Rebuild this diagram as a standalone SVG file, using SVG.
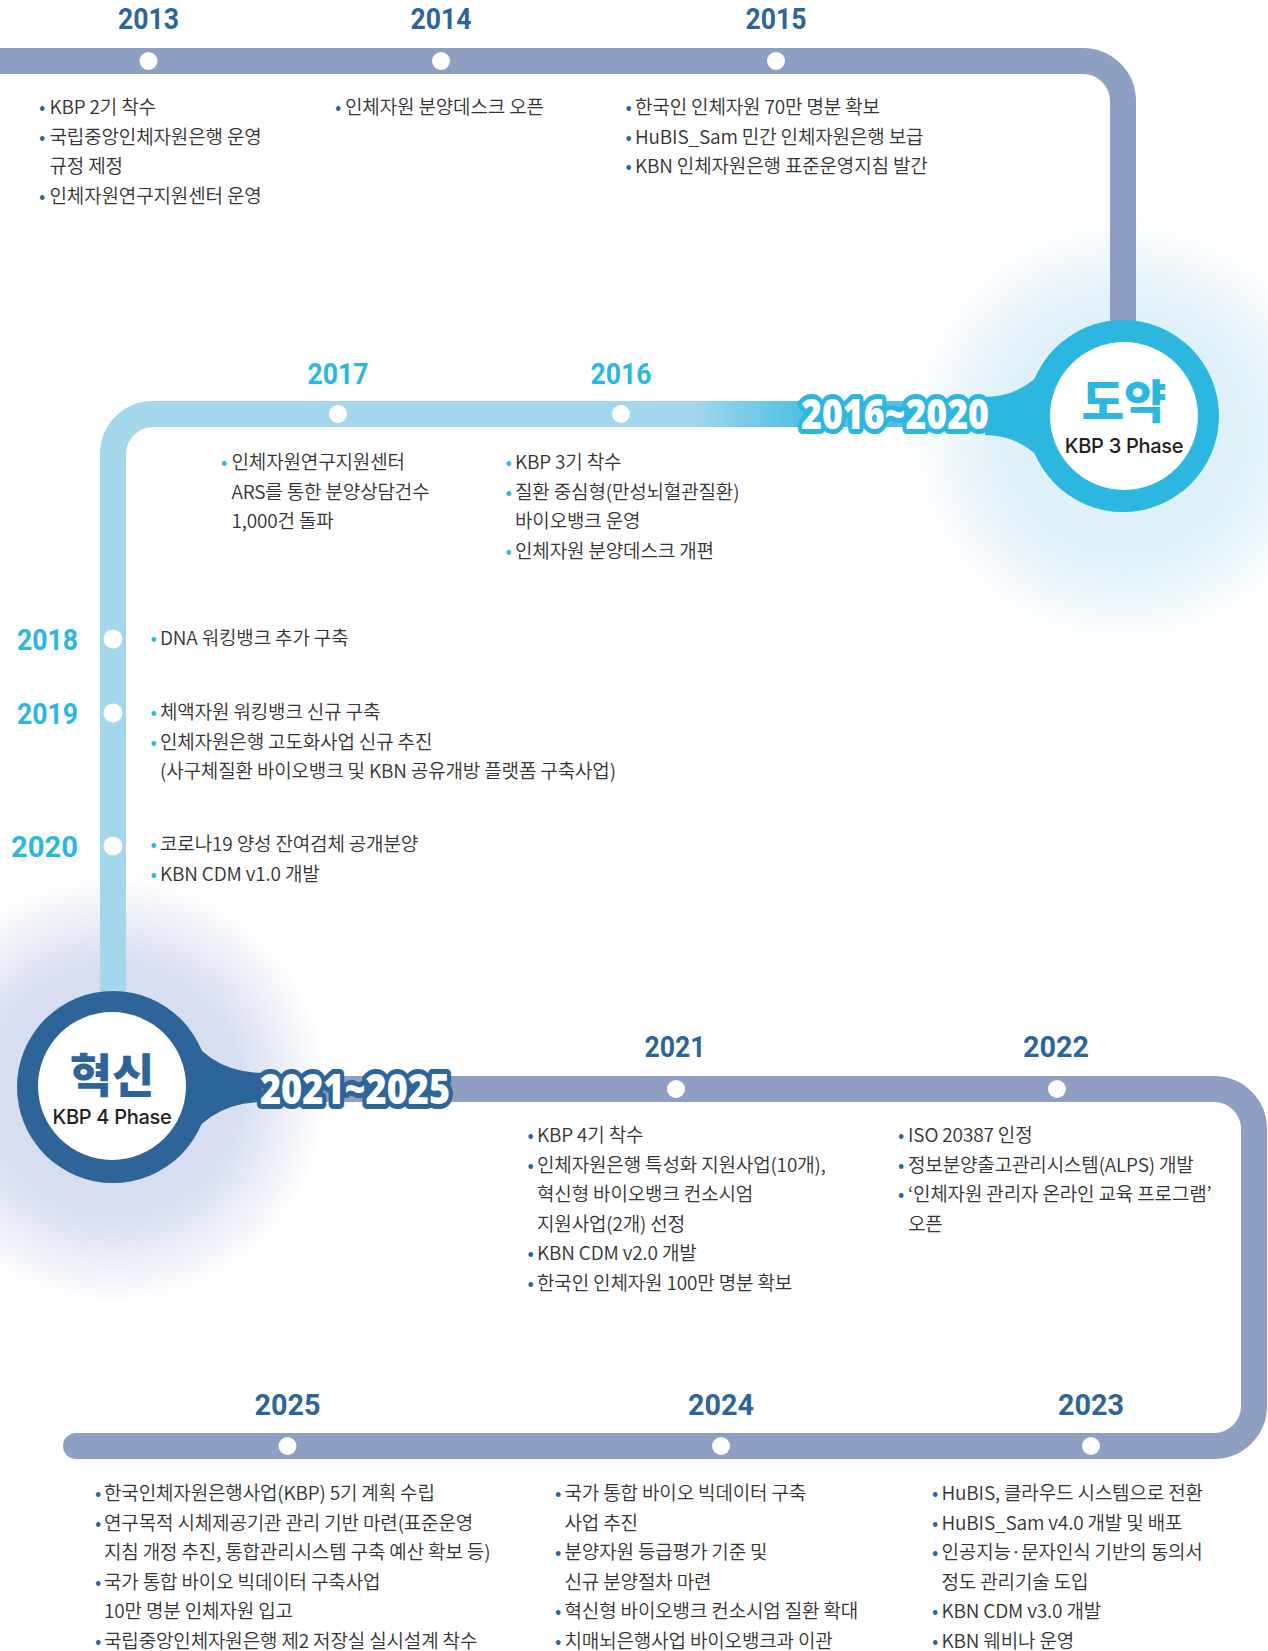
<svg xmlns="http://www.w3.org/2000/svg" width="1268" height="1651" viewBox="0 0 1268 1651">
<defs>
<style>
.t{font-family:"Noto Sans CJK KR","Noto Sans",sans-serif;font-size:19px;font-weight:350;fill:#333;letter-spacing:-0.15px}
.bd{fill:#2e6599}
.bl{fill:#2bb7e0}
.y{font-family:Roboto,"Liberation Sans",sans-serif;font-weight:700;font-size:30px;text-anchor:middle}
.yd{fill:#2e6599}
.yl{fill:#2bb7e0}
.dot{fill:#fff}
.band{fill:none;stroke-width:26}
.lab{font-family:"Noto Sans","Liberation Sans",sans-serif;font-weight:900;font-size:43px;fill:#fff;stroke-width:10;stroke-linejoin:round;paint-order:stroke;text-anchor:middle}
.ph{font-family:"Noto Sans CJK KR",sans-serif;font-weight:900;font-size:46px;text-anchor:middle}
.phs{font-family:Inter,"Noto Sans",sans-serif;font-weight:500;font-size:20px;fill:#231f20;text-anchor:middle;letter-spacing:-0.3px}
</style>
<radialGradient id="glowA" cx="1123" cy="432" r="215" gradientUnits="userSpaceOnUse">
<stop offset="0" stop-color="#dbeff8"/>
<stop offset="0.6" stop-color="#e0f1f9"/>
<stop offset="1" stop-color="#e0f1f9" stop-opacity="0"/>
</radialGradient>
<radialGradient id="glowB" cx="113" cy="1090" r="215" gradientUnits="userSpaceOnUse">
<stop offset="0" stop-color="#d4dbef"/>
<stop offset="0.6" stop-color="#d9dff1"/>
<stop offset="1" stop-color="#d9dff1" stop-opacity="0"/>
</radialGradient>
<linearGradient id="gMid" x1="690" y1="0" x2="800" y2="0" gradientUnits="userSpaceOnUse">
<stop offset="0" stop-color="#a5d7ec"/>
<stop offset="1" stop-color="#52c0e5"/>
</linearGradient>
</defs>
<rect width="1268" height="1651" fill="#fff"/>
<circle cx="1123" cy="432" r="215" fill="url(#glowA)"/>
<circle cx="113" cy="1090" r="215" fill="url(#glowB)"/>

<g id="connectors">
<path class="band" stroke="#8f9fc3" d="M0,61 H1083 A40,40 0 0 1 1123,101 V340"/>
<path class="band" stroke="url(#gMid)" d="M990,414 H153 A40,40 0 0 0 113,454 V1010"/>
<path class="band" stroke="#8f9fc3" stroke-linecap="round" d="M250,1089 H1214 A40,40 0 0 1 1254,1129 V1406 A40,40 0 0 1 1214,1446 H76"/>
</g>

<g id="phase-doyak">
<path fill="#2bb7e0" d="M1058,346 Q1035,396 985,397 L985,435 Q1035,436 1058,486 Z"/>
<circle cx="1123" cy="416" r="96" fill="#2bb7e0"/>
<circle cx="1124" cy="416" r="74" fill="#fff"/>
<text class="ph" x="1124" y="418" fill="#2bb7e0">도약</text>
<text class="phs" x="1124" y="453">KBP 3 Phase</text>
<text class="lab" x="895" y="429" stroke="#2bb7e0" textLength="188" lengthAdjust="spacingAndGlyphs">2016~2020</text>
</g>

<g id="phase-hyeoksin">
<path fill="#2e6599" d="M178,1019 Q205,1072 262,1073 L262,1102 Q205,1103 178,1155 Z"/>
<circle cx="113" cy="1087" r="96" fill="#2e6599"/>
<circle cx="112" cy="1086" r="74" fill="#fff"/>
<text class="ph" x="112" y="1092" fill="#2e6599">혁신</text>
<text class="phs" x="112" y="1124">KBP 4 Phase</text>
<text class="lab" x="355" y="1104" stroke="#2e6599" textLength="190" lengthAdjust="spacingAndGlyphs">2021~2025</text>
</g>

<g id="y2013">
<text class="y yd" x="148.5" y="29" textLength="61" lengthAdjust="spacingAndGlyphs">2013</text>
<circle class="dot" cx="148.5" cy="61" r="9"/>
<text class="t" y="114"><tspan class="bd" x="39">•</tspan><tspan x="49.5">KBP 2기 착수</tspan></text>
<text class="t" y="143.5"><tspan class="bd" x="39">•</tspan><tspan x="49.5">국립중앙인체자원은행 운영</tspan></text>
<text class="t" x="49.5" y="173">규정 제정</text>
<text class="t" y="202.5"><tspan class="bd" x="39">•</tspan><tspan x="49.5">인체자원연구지원센터 운영</tspan></text>
</g>

<g id="y2014">
<text class="y yd" x="441" y="29" textLength="61" lengthAdjust="spacingAndGlyphs">2014</text>
<circle class="dot" cx="441" cy="61" r="9"/>
<text class="t" y="114"><tspan class="bd" x="335">•</tspan><tspan x="345">인체자원 분양데스크 오픈</tspan></text>
</g>

<g id="y2015">
<text class="y yd" x="776" y="29" textLength="61" lengthAdjust="spacingAndGlyphs">2015</text>
<circle class="dot" cx="776" cy="61" r="9"/>
<text class="t" y="114"><tspan class="bd" x="625.5">•</tspan><tspan x="635">한국인 인체자원 70만 명분 확보</tspan></text>
<text class="t" y="143.5"><tspan class="bd" x="625.5">•</tspan><tspan x="635">HuBIS_Sam 민간 인체자원은행 보급</tspan></text>
<text class="t" y="173"><tspan class="bd" x="625.5">•</tspan><tspan x="635">KBN 인체자원은행 표준운영지침 발간</tspan></text>
</g>

<g id="y2016">
<text class="y yl" x="621" y="384" textLength="61" lengthAdjust="spacingAndGlyphs">2016</text>
<circle class="dot" cx="621" cy="414" r="9"/>
<text class="t" y="469"><tspan class="bl" x="505.5">•</tspan><tspan x="515">KBP 3기 착수</tspan></text>
<text class="t" y="498.5"><tspan class="bl" x="505.5">•</tspan><tspan x="515">질환 중심형(만성뇌혈관질환)</tspan></text>
<text class="t" x="515" y="528">바이오뱅크 운영</text>
<text class="t" y="557.5"><tspan class="bl" x="505.5">•</tspan><tspan x="515">인체자원 분양데스크 개편</tspan></text>
</g>

<g id="y2017">
<text class="y yl" x="338" y="384" textLength="61" lengthAdjust="spacingAndGlyphs">2017</text>
<circle class="dot" cx="338" cy="414" r="9"/>
<text class="t" y="469"><tspan class="bl" x="221">•</tspan><tspan x="231.5">인체자원연구지원센터</tspan></text>
<text class="t" x="231.5" y="498.5">ARS를 통한 분양상담건수</text>
<text class="t" x="231.5" y="528">1,000건 돌파</text>
</g>

<g id="y2018">
<text class="y yl" x="78" y="650" style="text-anchor:end" textLength="61" lengthAdjust="spacingAndGlyphs">2018</text>
<circle class="dot" cx="113" cy="639" r="9.5"/>
<text class="t" y="645"><tspan class="bl" x="150.5">•</tspan><tspan x="160">DNA 워킹뱅크 추가 구축</tspan></text>
</g>

<g id="y2019">
<text class="y yl" x="78" y="724" style="text-anchor:end" textLength="61" lengthAdjust="spacingAndGlyphs">2019</text>
<circle class="dot" cx="113" cy="713" r="9.5"/>
<text class="t" y="719"><tspan class="bl" x="150.5">•</tspan><tspan x="160">체액자원 워킹뱅크 신규 구축</tspan></text>
<text class="t" y="748.5"><tspan class="bl" x="150.5">•</tspan><tspan x="160">인체자원은행 고도화사업 신규 추진</tspan></text>
<text class="t" x="160" y="778">(사구체질환 바이오뱅크 및 KBN 공유개방 플랫폼 구축사업)</text>
</g>

<g id="y2020">
<text class="y yl" x="78" y="857" style="text-anchor:end" textLength="67" lengthAdjust="spacingAndGlyphs">2020</text>
<circle class="dot" cx="113" cy="846" r="9.5"/>
<text class="t" y="851"><tspan class="bl" x="150.5">•</tspan><tspan x="160">코로나19 양성 잔여검체 공개분양</tspan></text>
<text class="t" y="880.5"><tspan class="bl" x="150.5">•</tspan><tspan x="160">KBN CDM v1.0 개발</tspan></text>
</g>

<g id="y2021">
<text class="y yd" x="675" y="1057" textLength="61" lengthAdjust="spacingAndGlyphs">2021</text>
<circle class="dot" cx="676" cy="1089" r="9"/>
<text class="t" y="1142"><tspan class="bd" x="527.5">•</tspan><tspan x="537">KBP 4기 착수</tspan></text>
<text class="t" y="1171.5"><tspan class="bd" x="527.5">•</tspan><tspan x="537">인체자원은행 특성화 지원사업(10개),</tspan></text>
<text class="t" x="537" y="1201">혁신형 바이오뱅크 컨소시엄</text>
<text class="t" x="537" y="1230.5">지원사업(2개) 선정</text>
<text class="t" y="1260"><tspan class="bd" x="527.5">•</tspan><tspan x="537">KBN CDM v2.0 개발</tspan></text>
<text class="t" y="1289.5"><tspan class="bd" x="527.5">•</tspan><tspan x="537">한국인 인체자원 100만 명분 확보</tspan></text>
</g>

<g id="y2022">
<text class="y yd" x="1056" y="1057" textLength="66" lengthAdjust="spacingAndGlyphs">2022</text>
<circle class="dot" cx="1057" cy="1089" r="9"/>
<text class="t" y="1142"><tspan class="bd" x="898">•</tspan><tspan x="908">ISO 20387 인정</tspan></text>
<text class="t" y="1171.5"><tspan class="bd" x="898">•</tspan><tspan x="908">정보분양출고관리시스템(ALPS) 개발</tspan></text>
<text class="t" y="1201"><tspan class="bd" x="898">•</tspan><tspan x="908">‘인체자원 관리자 온라인 교육 프로그램’</tspan></text>
<text class="t" x="908" y="1230.5">오픈</text>
</g>

<g id="y2023">
<text class="y yd" x="1091" y="1415" textLength="66" lengthAdjust="spacingAndGlyphs">2023</text>
<circle class="dot" cx="1091" cy="1446" r="9"/>
<text class="t" y="1500"><tspan class="bd" x="932">•</tspan><tspan x="941.5">HuBIS, 클라우드 시스템으로 전환</tspan></text>
<text class="t" y="1529.5"><tspan class="bd" x="932">•</tspan><tspan x="941.5">HuBIS_Sam v4.0 개발 및 배포</tspan></text>
<text class="t" y="1559"><tspan class="bd" x="932">•</tspan><tspan x="941.5">인공지능·문자인식 기반의 동의서</tspan></text>
<text class="t" x="941.5" y="1588.5">정도 관리기술 도입</text>
<text class="t" y="1618"><tspan class="bd" x="932">•</tspan><tspan x="941.5">KBN CDM v3.0 개발</tspan></text>
<text class="t" y="1647.5"><tspan class="bd" x="932">•</tspan><tspan x="941.5">KBN 웨비나 운영</tspan></text>
</g>

<g id="y2024">
<text class="y yd" x="721" y="1415" textLength="66" lengthAdjust="spacingAndGlyphs">2024</text>
<circle class="dot" cx="721" cy="1446" r="9"/>
<text class="t" y="1500"><tspan class="bd" x="555">•</tspan><tspan x="564.5">국가 통합 바이오 빅데이터 구축</tspan></text>
<text class="t" x="564.5" y="1529.5">사업 추진</text>
<text class="t" y="1559"><tspan class="bd" x="555">•</tspan><tspan x="564.5">분양자원 등급평가 기준 및</tspan></text>
<text class="t" x="564.5" y="1588.5">신규 분양절차 마련</text>
<text class="t" y="1618"><tspan class="bd" x="555">•</tspan><tspan x="564.5">혁신형 바이오뱅크 컨소시엄 질환 확대</tspan></text>
<text class="t" y="1647.5"><tspan class="bd" x="555">•</tspan><tspan x="564.5">치매뇌은행사업 바이오뱅크과 이관</tspan></text>
</g>

<g id="y2025">
<text class="y yd" x="287.5" y="1415" textLength="66" lengthAdjust="spacingAndGlyphs">2025</text>
<circle class="dot" cx="287.5" cy="1446" r="9"/>
<text class="t" y="1500"><tspan class="bd" x="95">•</tspan><tspan x="104">한국인체자원은행사업(KBP) 5기 계획 수립</tspan></text>
<text class="t" y="1529.5"><tspan class="bd" x="95">•</tspan><tspan x="104">연구목적 시체제공기관 관리 기반 마련(표준운영</tspan></text>
<text class="t" x="104" y="1559">지침 개정 추진, 통합관리시스템 구축 예산 확보 등)</text>
<text class="t" y="1588.5"><tspan class="bd" x="95">•</tspan><tspan x="104">국가 통합 바이오 빅데이터 구축사업</tspan></text>
<text class="t" x="104" y="1618">10만 명분 인체자원 입고</text>
<text class="t" y="1647.5"><tspan class="bd" x="95">•</tspan><tspan x="104">국립중앙인체자원은행 제2 저장실 실시설계 착수</tspan></text>
</g>
</svg>
